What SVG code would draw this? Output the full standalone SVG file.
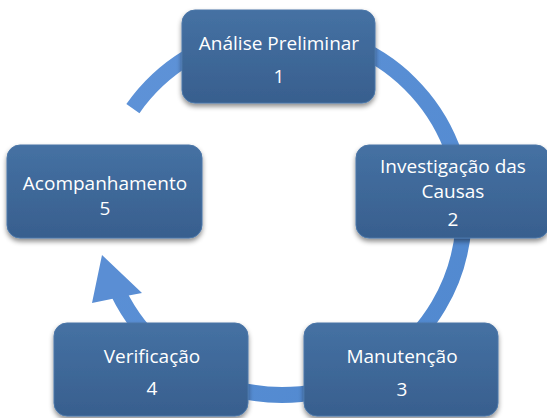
<svg xmlns="http://www.w3.org/2000/svg" width="547" height="418" viewBox="0 0 547 418">
<defs>
<linearGradient id="boxg" x1="0" y1="0" x2="0" y2="1">
<stop offset="0" stop-color="#4571a3"/>
<stop offset="1" stop-color="#385f8e"/>
</linearGradient>
<linearGradient id="ringg" x1="0" y1="0" x2="1" y2="1">
<stop offset="0" stop-color="#5f93d8"/>
<stop offset="1" stop-color="#5088cf"/>
</linearGradient>
<filter id="sh" x="-10%" y="-10%" width="120%" height="130%">
<feDropShadow dx="0" dy="3" stdDeviation="2.5" flood-color="#000" flood-opacity="0.45"/>
</filter>
</defs>
<style>
.box{fill:url(#boxg);stroke:#4a76a8;stroke-width:1;filter:url(#sh)}
.t{font-family:"Open Sans","DejaVu Sans",sans-serif;font-size:19px;fill:#ffffff;text-anchor:middle}
</style>
<rect width="547" height="418" fill="#ffffff"/>
<g id="connectors">
<path d="M132.9,108.6 A182,182 0 1 1 118.4,292.8" fill="none" stroke="url(#ringg)" stroke-width="16"/>
<polygon points="102,255 142,293 126,296 92,303" fill="#5a8ed4"/>
</g>
<g id="node1">
<rect class="box" x="182" y="10" width="193" height="93" rx="13"/>
<text class="t" x="279" y="49.5">Análise Preliminar</text>
<text class="t" x="279" y="82.5">1</text>
</g>
<g id="node2">
<rect class="box" x="356" y="145" width="193" height="93" rx="13"/>
<text class="t" x="453" y="172.5">Investigação das</text>
<text class="t" x="453" y="197.5">Causas</text>
<text class="t" x="453" y="225.5">2</text>
</g>
<g id="node3">
<rect class="box" x="304" y="323" width="194" height="93" rx="13"/>
<text class="t" x="402" y="362.5">Manutenção</text>
<text class="t" x="402" y="395.5">3</text>
</g>
<g id="node4">
<rect class="box" x="54" y="323" width="194" height="93" rx="13"/>
<text class="t" x="152" y="362.5">Verificação</text>
<text class="t" x="152" y="394.5">4</text>
</g>
<g id="node5">
<rect class="box" x="7" y="145" width="195" height="93" rx="13"/>
<text class="t" x="105" y="189.5">Acompanhamento</text>
<text class="t" x="105" y="214.5">5</text>
</g>
</svg>
